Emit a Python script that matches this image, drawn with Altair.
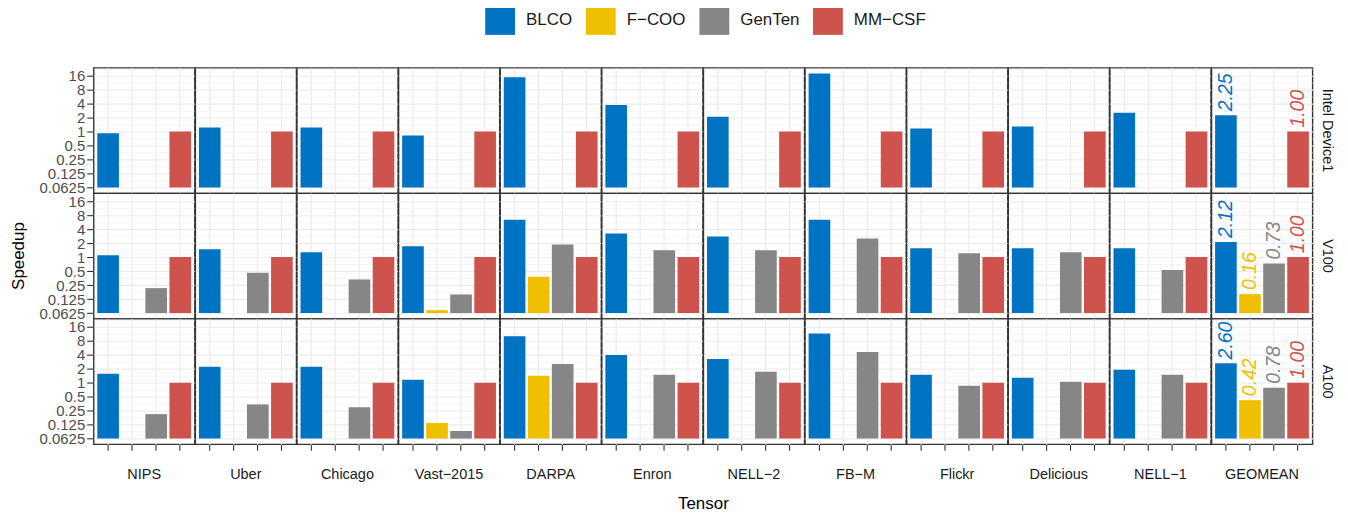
import altair as alt
import pandas as pd

tensors = ["NIPS", "Uber", "Chicago", "Vast−2015", "DARPA", "Enron", "NELL−2",
           "FB−M", "Flickr", "Delicious", "NELL−1", "GEOMEAN"]
devices = ["Intel Device1", "V100", "A100"]
methods = ["BLCO", "F−COO", "GenTen", "MM−CSF"]
colors = ["#0073C2", "#EFC000", "#868686", "#CD534C"]

intel_blco = [0.92, 1.22, 1.22, 0.82, 14.7, 3.75, 2.08, 17.9, 1.16, 1.28, 2.53, 2.25]
intel_fcoo = [None] * 12
intel_genten = [None] * 12
intel_mmcsf = [1.0] * 12

v100_blco = [1.10, 1.48, 1.27, 1.71, 6.35, 3.21, 2.78, 6.35, 1.55, 1.55, 1.55, 2.12]
v100_fcoo = [None, None, None, 0.072, 0.38, None, None, None, None, None, None, 0.16]
v100_genten = [0.215, 0.46, 0.33, 0.157, 1.88, 1.41, 1.41, 2.52, 1.21, 1.27, 0.53, 0.73]
v100_mmcsf = [1.0] * 12

a100_blco = [1.55, 2.19, 2.19, 1.16, 9.97, 3.94, 3.24, 11.5, 1.48, 1.28, 1.89, 2.60]
a100_fcoo = [None, None, None, 0.135, 1.41, None, None, None, None, None, None, 0.42]
a100_genten = [0.21, 0.34, 0.295, 0.091, 2.53, 1.48, 1.71, 4.56, 0.86, 1.05, 1.48, 0.78]
a100_mmcsf = [1.0] * 12

major_ticks = [0.0625, 0.125, 0.25, 0.5, 1, 2, 4, 8, 16]
minor_ticks = [(a * b) ** 0.5 for a, b in zip(major_ticks[:-1], major_ticks[1:])] + [22.627]
y_domain = [0.047, 23.7]

series = {
    "Intel Device1": [intel_blco, intel_fcoo, intel_genten, intel_mmcsf],
    "V100": [v100_blco, v100_fcoo, v100_genten, v100_mmcsf],
    "A100": [a100_blco, a100_fcoo, a100_genten, a100_mmcsf],
}
rows = []
for dev in devices:
    for m, vals in zip(methods, series[dev]):
        for t, v in zip(tensors, vals):
            if v is not None:
                rows.append({"device": dev, "method": m, "tensor": t, "speedup": v})
df = pd.DataFrame(rows)

FONT = "Liberation Sans"
major_js = "[" + ",".join(str(v) for v in major_ticks) + "]"
is_major = f"indexof({major_js}, datum.value) >= 0"

x_enc = alt.X(
    "method:N", sort=methods,
    scale=alt.Scale(paddingInner=0.1, paddingOuter=0.15),
    axis=alt.Axis(labels=False, title=None, ticks=True, tickSize=6, tickColor="#333333",
                  tickWidth=1.1, domain=False, grid=True, gridColor="#EBEBEB", gridWidth=1.1),
)
y_enc = alt.Y(
    "speedup:Q",
    scale=alt.Scale(type="log", base=2, domain=y_domain, nice=False),
    axis=alt.Axis(
        title=None, values=sorted(major_ticks + minor_ticks), format="~g",
        labelExpr=f"{is_major} ? datum.label : ''", labelOverlap=False,
        labelFontSize=15, labelColor="#4D4D4D", labelFont=FONT, labelPadding=2,
        domain=False, tickColor="#333333", tickSize=7, tickWidth=1.1,
        tickOpacity={"condition": {"test": is_major, "value": 1}, "value": 0},
        gridColor="#EBEBEB",
        gridWidth={"condition": {"test": is_major, "value": 1.1}, "value": 0.55},
    ),
)
color_enc = alt.Color(
    "method:N", sort=methods,
    scale=alt.Scale(domain=methods, range=colors),
    legend=alt.Legend(
        title=None, orient="none", direction="horizontal", legendX=393, legendY=-63,
        padding=0,
        symbolType="square", symbolSize=900, symbolStrokeWidth=0, symbolOpacity=1,
        labelFontSize=17, labelFont=FONT, labelColor="#1A1A1A", labelOffset=11,
        columnPadding=13,
    ),
)

bars = alt.Chart().mark_bar(opacity=1).encode(
    x=x_enc, y=y_enc, y2=alt.datum(0.0625), color=color_enc
)
labels = alt.Chart().transform_filter("datum.tensor == 'GEOMEAN'").mark_text(
    angle=270, align="left", baseline="middle", dx=4, fontSize=19.5,
    fontStyle="italic", font=FONT
).encode(
    x=x_enc, y=y_enc, text=alt.Text("speedup:Q", format=".2f"), color=color_enc
)

chart = alt.layer(bars, labels, data=df).properties(width=101.4, height=126).facet(
    row=alt.Row("device:N", sort=devices, header=alt.Header(
        title="Speedup", titleOrient="left", titleFontSize=17, titleFont=FONT,
        titleFontWeight="normal", titleColor="#000000", titlePadding=1,
        labelOrient="right", labelAngle=90, labelFontSize=14.5, labelFont=FONT,
        labelColor="#1A1A1A", labelPadding=6)),
    column=alt.Column("tensor:N", sort=tensors, header=alt.Header(
        title="Tensor", titleOrient="bottom", titleFontSize=17, titleFont=FONT,
        titleFontWeight="normal", titleColor="#000000", titlePadding=4,
        labelOrient="bottom", labelFontSize=14.5, labelFont=FONT,
        labelColor="#1A1A1A", labelPadding=17)),
    spacing=0,
    bounds="flush",
).properties(
    padding={"left": 1, "top": -4, "right": 5, "bottom": 5}
).configure_view(stroke="#333333", strokeWidth=1.4, fill="white")

chart.save("out.html", embed_options={"renderer": "svg", "actions": False})
